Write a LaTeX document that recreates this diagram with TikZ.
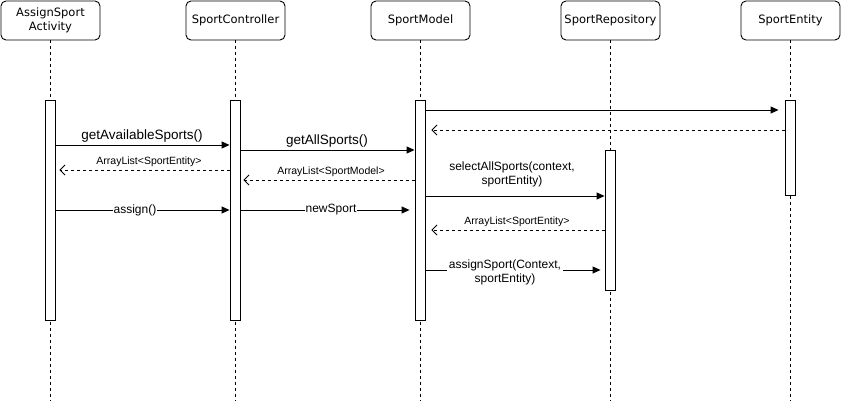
\documentclass[tikz,border=0pt]{standalone}
\usepackage{fontspec}
\setmainfont{Liberation Sans}
\newfontfamily\headfont{DejaVu Sans}
\usetikzlibrary{arrows.meta,positioning}

\begin{document}
\begin{tikzpicture}[x=1pt,y=-1pt,line width=0.9pt,
    obj/.style = {draw, rounded corners=5pt, minimum width=99pt, minimum height=39pt, align=center, font=\headfont\fontsize{11.5}{14}\selectfont},
    bar/.style = {draw, fill=white, minimum width=10pt, inner sep=0pt},
    life/.style = {dash pattern=on 3pt off 3pt, line width=0.7pt},
    call/.style = {-{Triangle[length=8pt,width=7pt]}},
    ret/.style = {dash pattern=on 3pt off 3pt, -{Straight Barb[length=5pt,width=10pt]}, shorten >=4pt},
    msg/.style = {font=\fontsize{13.5}{16}\selectfont, inner sep=1pt},
    small/.style = {font=\fontsize{10.5}{12}\selectfont, inner sep=1pt},
    mid/.style = {font=\fontsize{12}{14}\selectfont, inner sep=1pt, align=center}]
    \useasboundingbox (0,0) rectangle (841,401);

    % objects
    \node[obj] (act) at (50.5,20.5) {AssignSport\\Activity};
    \node[obj] (ctl) at (235.5,20.5) {SportController};
    \node[obj] (mdl) at (420.5,20.5) {SportModel};
    \node[obj] (repo) at (610.5,20.5) {SportRepository};
    \node[obj] (ent) at (790.5,20.5) {SportEntity};

    % lifelines
    \coordinate (actend) at (50,401);
    \coordinate (ctlend) at (235,401);
    \coordinate (mdlend) at (420,401);
    \coordinate (repoend) at (610,401);
    \coordinate (entend) at (790,401);
    \draw[life] (act.south -| actend) -- (actend);
    \draw[life] (ctl.south -| ctlend) -- (ctlend);
    \draw[life] (mdl.south -| mdlend) -- (mdlend);
    \draw[life] (repo.south -| repoend) -- (repoend);
    \draw[life] (ent.south -| entend) -- (entend);

    % activations
    \node[bar, minimum height=220pt] (actbar) at (50,210) {};
    \node[bar, minimum height=220pt] (ctlbar) at (235,210) {};
    \node[bar, minimum height=220pt] (mdlbar) at (420,210) {};
    \node[bar, minimum height=140pt] (repobar) at (610,220) {};
    \node[bar, minimum height=95pt] (entbar) at (790,147.5) {};

    % messages
    \draw[call] (actbar.east |- 0,145) -- (ctlbar.west |- 0,145);
    \node[msg] (getavail) at (142,136.5) {getAvailableSports()};
    \draw[call] (ctlbar.east |- 0,150) -- (mdlbar.west |- 0,150);
    \node[msg] (getall) at (327,141.5) {getAllSports()};
    \draw[ret] (ctlbar.west |- 0,170) -- (actbar.east |- 0,170);
    \node[small] (retent) at (149,161.5) {ArrayList<SportEntity>};
    \draw[ret, shorten >=3pt] (mdlbar.west |- 0,180) -- (ctlbar.east |- 0,180);
    \node[small] (retmdl) at (331,171.5) {ArrayList<SportModel>};
    \draw[call] (actbar.east |- 0,210) -- (ctlbar.west |- 0,210);
    \node[mid, fill=white] (assign) at (135,210) {assign()};
    \draw[call, shorten >=5pt] (ctlbar.east |- 0,210) -- (mdlbar.west |- 0,210);
    \node[mid, fill=white] (newsport) at (331,210) {newSport};

    \draw[call, shorten >=6pt] (mdlbar.east |- 0,110) -- (entbar.west |- 0,110);
    \draw[ret, shorten >=6pt] (entbar.west |- 0,130) -- (mdlbar.east |- 0,130);
    \draw[call] (mdlbar.east |- 0,196) -- (repobar.west |- 0,196);
    \node[mid] (selall) at (512,174) {selectAllSports(context,\\sportEntity)};
    \draw[ret, shorten >=6pt] (repobar.west |- 0,230) -- (mdlbar.east |- 0,230);
    \node[small] (retrepo) at (517,222) {ArrayList<SportEntity>};
    \draw[call, shorten >=4pt] (mdlbar.east |- 0,270) -- (repobar.west |- 0,270);
    \node[mid, fill=white, inner sep=2pt] (assignsport) at (505,272) {assignSport(Context,\\sportEntity)};
\end{tikzpicture}
\end{document}
